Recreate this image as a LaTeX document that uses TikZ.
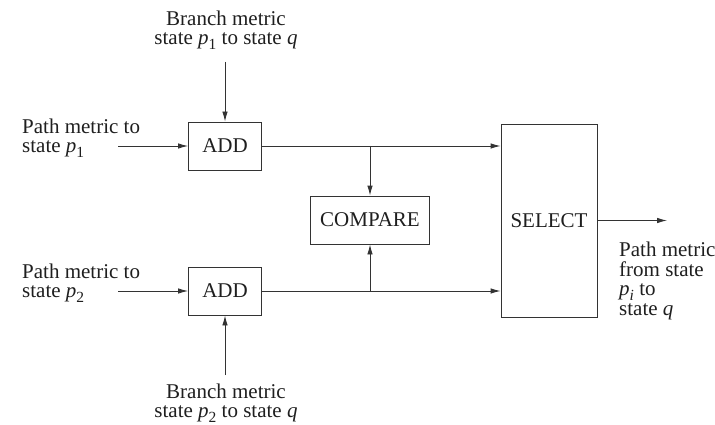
\documentclass[tikz,border=0pt]{standalone}
\usepackage{fontspec}
\setmainfont{Liberation Serif}
\usetikzlibrary{arrows.meta}
% italic symbol with a smaller, lowered index
\newcommand\symsub[2]{\textit{#1}\raisebox{-0.22em}{\fontsize{15.5}{15.5}\selectfont #2}}

\begin{document}
\begin{tikzpicture}[x=1pt,y=-1pt,
  every node/.style={font=\fontsize{21}{19.5}\selectfont, text=black!88},
  blockbox/.style={draw=black!80, line width=0.9pt, inner sep=0pt},
  wire/.style={draw=black!80, line width=0.9pt},
  flow/.style={wire, -{Latex[length=10pt,width=5.5pt]}},
  lbl/.style={align=left, inner sep=0pt},
  clbl/.style={align=center, inner sep=0pt}]
\useasboundingbox[fill=white] (0,0) rectangle (715,425);

% processing blocks
\node[blockbox, minimum width=73pt, minimum height=48pt] (add1) at (225,146) {ADD};
\node[blockbox, minimum width=73pt, minimum height=48pt] (add2) at (225,291) {ADD};
\node[blockbox, minimum width=119pt, minimum height=48pt] (cmp) at (370,220) {COMPARE};
\node[blockbox, minimum width=96pt, minimum height=193pt] (sel) at (549,220.5) {SELECT};

% labels
\node[clbl] (b1) at (226,30) {Branch metric\\state \symsub{p}{1} to state \textit{q}};
\node[clbl] (b2) at (226,403) {Branch metric\\state \symsub{p}{2} to state \textit{q}};
\node[lbl, anchor=west] (pm1) at (22,138) {Path metric to\\state \symsub{p}{1}};
\node[lbl, anchor=west] (pm2) at (22,283) {Path metric to\\state \symsub{p}{2}};
\node[lbl, anchor=west] (pout) at (619,281) {Path metric\\from state\\\symsub{p}{\itshape i} to\\state \textit{q}};

% free ends and junctions
\coordinate (in1) at (118,146);
\coordinate (in2) at (118,291);
\coordinate (br1) at (225,62);
\coordinate (br2) at (225,375);
\coordinate (out) at (667,220.5);
\coordinate (j1) at (add1.east -| cmp.north);
\coordinate (j2) at (add2.east -| cmp.south);

% connectors
\draw[flow] (in1) -- (add1.west);
\draw[flow] (in2) -- (add2.west);
\draw[flow] (br1) -- (add1.north);
\draw[flow] (br2) -- (add2.south);
\draw[flow] (add1.east) -- (add1.east -| sel.west);
\draw[flow] (add2.east) -- (add2.east -| sel.west);
\draw[flow] (j1) -- (cmp.north);
\draw[flow] (j2) -- (cmp.south);
\draw[flow] (sel.east) -- (out);
\end{tikzpicture}
\end{document}
